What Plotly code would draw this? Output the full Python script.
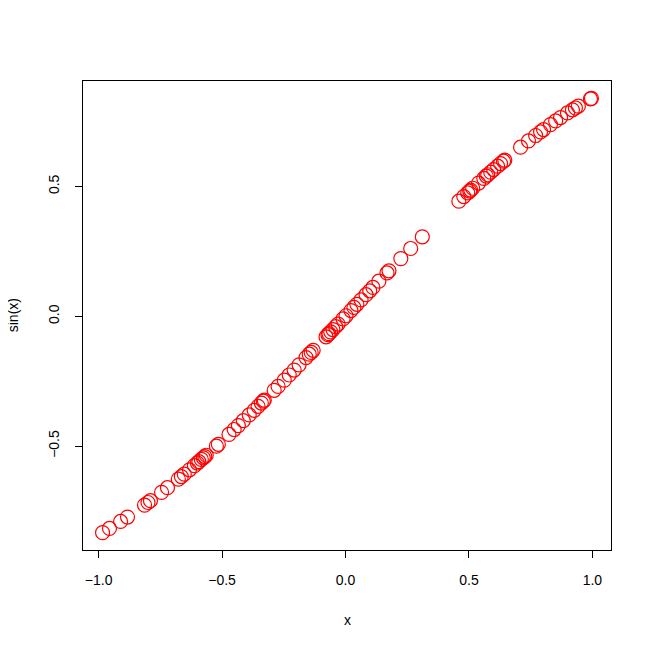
import plotly.graph_objects as go

# values
x_vals = [
    -0.984, -0.956, -0.911, -0.883, -0.814, -0.800, -0.790, -0.745, -0.721, -0.677,
    -0.665, -0.653, -0.632, -0.612, -0.600, -0.594, -0.584, -0.576, -0.570, -0.564,
    -0.523, -0.515, -0.472, -0.451, -0.434, -0.414, -0.390, -0.370, -0.354, -0.341,
    -0.333, -0.329, -0.289, -0.273, -0.248, -0.228, -0.208, -0.188, -0.160, -0.147,
    -0.139, -0.131, -0.079, -0.071, -0.067, -0.060, -0.051, -0.040, -0.030, -0.010,
    0.002, 0.022, 0.034, 0.046, 0.063, 0.083, 0.098, 0.111, 0.135, 0.168,
    0.176, 0.224, 0.264, 0.311,
    0.459, 0.479, 0.495, 0.503, 0.507, 0.515, 0.539, 0.560, 0.570, 0.576,
    0.588, 0.600, 0.616, 0.628, 0.640, 0.645, 0.709, 0.741, 0.770, 0.790,
    0.802, 0.830, 0.851, 0.871, 0.899, 0.919, 0.931, 0.943, 0.992, 0.996,
]
y_vals = [
    -0.833, -0.817, -0.790, -0.773, -0.727, -0.717, -0.710, -0.678, -0.660, -0.627,
    -0.617, -0.608, -0.591, -0.575, -0.565, -0.560, -0.551, -0.545, -0.540, -0.535,
    -0.500, -0.493, -0.455, -0.436, -0.421, -0.402, -0.380, -0.362, -0.347, -0.334,
    -0.327, -0.323, -0.285, -0.270, -0.246, -0.226, -0.207, -0.187, -0.159, -0.146,
    -0.139, -0.131, -0.079, -0.071, -0.067, -0.060, -0.051, -0.040, -0.030, -0.010,
    0.002, 0.022, 0.034, 0.046, 0.063, 0.083, 0.098, 0.111, 0.135, 0.167,
    0.175, 0.222, 0.261, 0.306,
    0.443, 0.461, 0.475, 0.482, 0.486, 0.493, 0.513, 0.531, 0.540, 0.545,
    0.555, 0.565, 0.578, 0.588, 0.597, 0.601, 0.651, 0.675, 0.696, 0.710,
    0.719, 0.738, 0.752, 0.765, 0.783, 0.795, 0.802, 0.809, 0.837, 0.839,
]
x_ticks = [-1.0, -0.5, 0.0, 0.5, 1.0]
x_tick_text = ["\u22121.0", "\u22120.5", "0.0", "0.5", "1.0"]
y_ticks = [-0.5, 0.0, 0.5]
y_tick_text = ["\u22120.5", "0.0", "0.5"]

# R style 4% padding around the data range
def padded(vals):
    lo, hi = min(vals), max(vals)
    d = (hi - lo) * 0.04
    return [lo - d, hi + d]

font = dict(family="Liberation Sans, Arial, sans-serif", size=14, color="black")

fig = go.Figure()
fig.add_trace(go.Scatter(
    x=x_vals, y=y_vals, mode="markers",
    marker=dict(symbol="circle-open", size=14, color="red",
                line=dict(width=1.2, color="red")),
    showlegend=False, hoverinfo="skip",
))

axis_common = dict(
    showgrid=False, zeroline=False,
    showline=True, linecolor="black", linewidth=1, mirror=True,
    ticks="outside", ticklen=7, tickwidth=1, tickcolor="black",
    tickfont=font,
)
fig.update_xaxes(range=padded(x_vals), tickvals=x_ticks, ticktext=x_tick_text,
                 ticklabelstandoff=10, **axis_common)
fig.update_yaxes(range=padded(y_vals), tickvals=y_ticks, ticktext=y_tick_text,
                 tickangle=-90, ticklabelstandoff=10, **axis_common)

fig.add_annotation(x=0.5, y=-0.17, xref="paper", yref="paper", text="x",
                   showarrow=False, font=font)
fig.add_annotation(x=-0.152, y=0.5, xref="paper", yref="paper", text="sin(x)",
                   textangle=-90, showarrow=False, font=font)

# page body adds a small offset, so the figure is a bit smaller than the window
fig.update_layout(
    width=646, height=645,
    margin=dict(l=75, r=43, t=73, b=103),
    plot_bgcolor="white", paper_bgcolor="white",
)
fig.write_html("out.html")
